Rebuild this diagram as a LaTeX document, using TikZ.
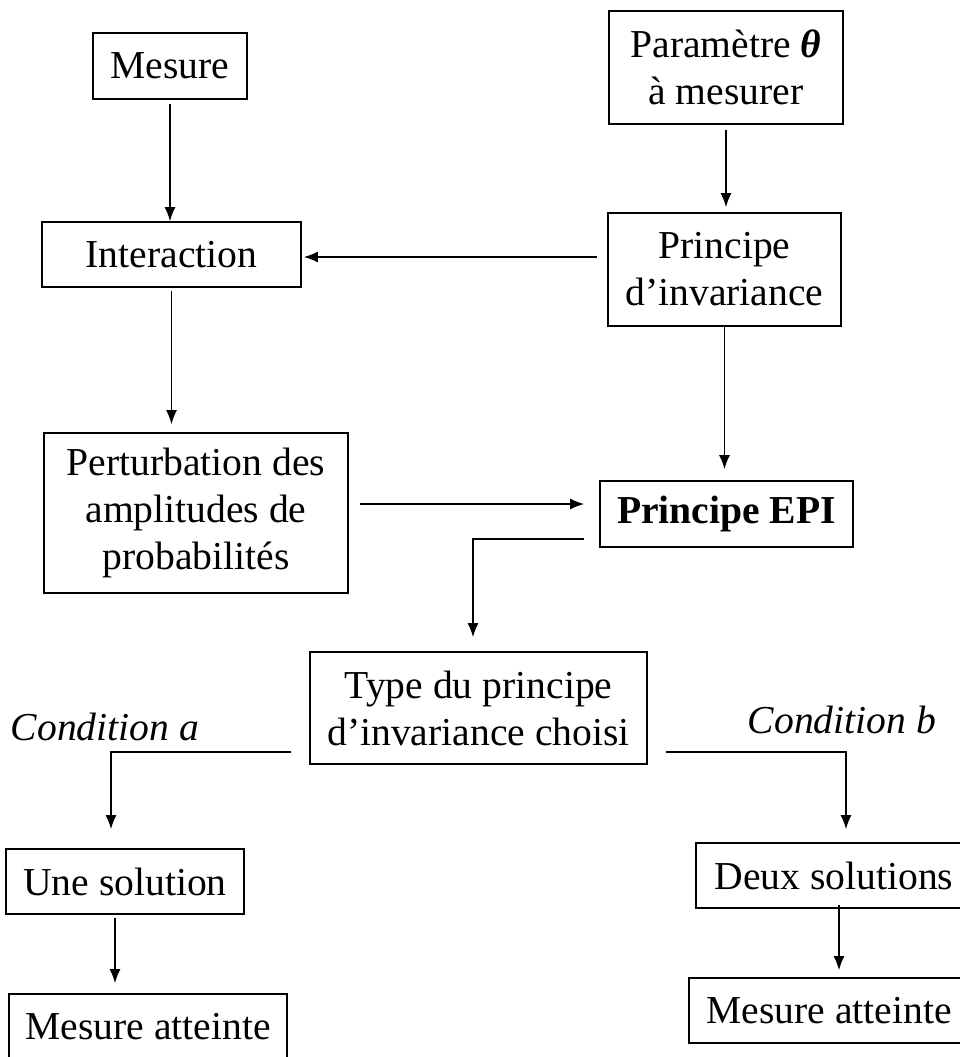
\documentclass[tikz,border=0pt]{standalone}
\usepackage{fontspec}
\setmainfont{Liberation Serif}
\usetikzlibrary{arrows.meta}
\tikzstyle{box} = [rectangle, draw=black, line width=0.8pt, align=center, inner sep=0pt, font=\fontsize{19.8}{23.5}\selectfont]
\tikzstyle{cond} = [align=center, inner sep=0pt, font=\fontsize{19.8}{23.5}\selectfont\itshape]
\tikzstyle{arrow} = [line width=0.8pt, -{Latex[length=7pt,width=5.5pt]}]

\begin{document}
\begin{tikzpicture}[x=0.5pt, y=-0.5pt]

\path[use as bounding box] (0,0) rectangle (960,1057);
\clip (0,0) rectangle (960,1057);

\node (mesure) [box, minimum width=77pt, minimum height=33pt] at (170,66) {Mesure};
\node (param) [box, minimum width=117pt, minimum height=56.5pt] at (726,67.5) {Paramètre {\bfseries\itshape θ}\\à mesurer};
\node (interaction) [box, minimum width=129.5pt, minimum height=32.5pt] at (171.5,254.5) {Interaction};
\node (invar) [box, minimum width=116.5pt, minimum height=56.5pt] at (724.5,269.5) {Principe\\d’invariance};
\node (perturb) [box, minimum width=152pt, minimum height=80pt] at (196,513) {Perturbation des\\amplitudes de\\probabilités};
\node (epi) [box, minimum width=126.5pt, minimum height=33pt] at (726.5,514) {\bfseries Principe EPI};
\node (type) [box, minimum width=168.5pt, minimum height=56pt] at (478.5,708) {Type du principe\\d’invariance choisi};
\node (conda) [cond] at (105,727) {Condition a};
\node (condb) [cond] at (842,720) {Condition b};
\node (une) [box, minimum width=119pt, minimum height=32.5pt] at (125,881.5) {Une solution};
\node (mesa) [box, minimum width=139pt, minimum height=32.5pt] at (148,1026.5) {Mesure atteinte};
\node (deux) [box, minimum width=138pt, minimum height=32.5pt] at (834,875.5) {Deux solutions};
\node (mesb) [box, minimum width=140pt, minimum height=32.5pt] at (829,1010.5) {Mesure atteinte};

\draw [arrow, shorten <=2pt] (mesure.south) -- (mesure.south |- interaction.north);
\draw [arrow, shorten <=2.5pt, shorten >=2.5pt] (param.south) -- (param.south |- invar.north);
\draw [arrow, shorten <=5pt, shorten >=1pt] ([yshift=-1.25pt]invar.west |- interaction.east) -- ([yshift=-1.25pt]interaction.east);
\draw [arrow, shorten <=1.5pt, shorten >=4pt] (interaction.south) -- (interaction.south |- perturb.north);
\draw [arrow, shorten >=5.5pt] (invar.south) -- (invar.south |- epi.north);
\draw [arrow, shorten <=5.5pt, shorten >=7.5pt] ([yshift=4.5pt]perturb.east) -- ([yshift=4.5pt]perturb.east -| epi.west);
\draw [arrow, shorten >=7pt] ([xshift=-7.5pt,yshift=4.5pt]epi.south west) -| ([xshift=-2.75pt]type.north);
\draw [arrow, shorten >=9.5pt] ([xshift=-9pt,yshift=6.5pt]type.south west) -| ([xshift=-7pt]une.north);
\draw [arrow, shorten >=6.5pt] ([xshift=9pt,yshift=6.5pt]type.south east) -| ([xshift=6pt]deux.north);
\draw [arrow, shorten <=1.5pt, shorten >=5pt] ([xshift=-5pt]une.south) -- ([xshift=-5pt]une.south |- mesa.north);
\draw [arrow, shorten <=-2pt, shorten >=3.5pt] ([xshift=2.5pt]deux.south) -- ([xshift=2.5pt]deux.south |- mesb.north);

\end{tikzpicture}
\end{document}
